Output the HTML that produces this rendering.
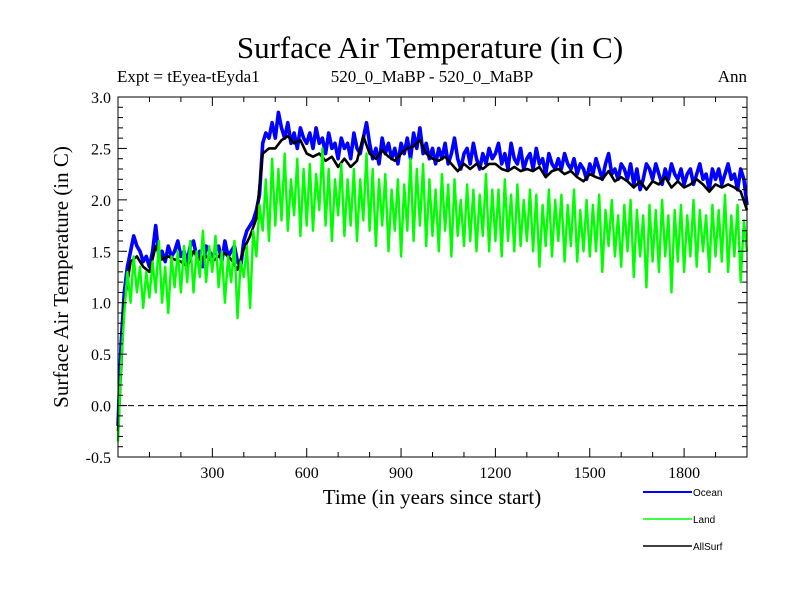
<!DOCTYPE html>
<html><head><meta charset="utf-8"><style>
html,body{margin:0;padding:0;background:#fff;}
svg{display:block;font-family:"Liberation Serif",serif;}
</style></head><body>
<svg id="chart" width="800" height="600" xmlns="http://www.w3.org/2000/svg">
<text x="430" y="58" font-size="31" text-anchor="middle">Surface Air Temperature (in C)</text>
<text x="117" y="82" font-size="17">Expt = tEyea-tEyda1</text>
<text x="432" y="82" font-size="17" text-anchor="middle">520_0_MaBP - 520_0_MaBP</text>
<text x="747" y="82" font-size="17" text-anchor="end">Ann</text>
<text transform="translate(68,277) rotate(-90)" font-size="21" text-anchor="middle">Surface Air Temperature (in C)</text>
<text x="432" y="504" font-size="21" text-anchor="middle">Time (in years since start)</text>
<g id="plot"></g>
<g font-family="Liberation Sans, sans-serif" font-size="10">
<line x1="643" y1="492" x2="692" y2="492" stroke="#0000ff" stroke-width="2"/>
<text x="693" y="496">Ocean</text>
<line x1="643" y1="519" x2="692" y2="519" stroke="#00ff00" stroke-width="1.5"/>
<text x="693" y="523">Land</text>
<line x1="643" y1="546" x2="692" y2="546" stroke="#000" stroke-width="1.5"/>
<text x="693" y="550">AllSurf</text>
</g>
</svg>
<script>
const xTicks=[300,600,900,1200,1500,1800];
const yTicks=[-0.5,0.0,0.5,1.0,1.5,2.0,2.5,3.0];
const yTickLabels=["-0.5","0.0","0.5","1.0","1.5","2.0","2.5","3.0"];
const oceanStep=10;
const ocean=[-0.2,
0.6,1.1,1.35,1.5,1.65,1.55,1.5,1.4,1.45,1.35,
1.5,1.75,1.45,1.5,1.4,1.55,1.45,1.5,1.6,1.45,
1.5,1.4,1.55,1.6,1.45,1.5,1.35,1.55,1.5,1.45,
1.5,1.55,1.4,1.6,1.45,1.5,1.55,1.4,1.35,1.6,
1.7,1.75,1.8,1.9,2.05,2.55,2.65,2.6,2.75,2.6,
2.85,2.7,2.6,2.75,2.55,2.65,2.5,2.7,2.6,2.55,
2.65,2.5,2.7,2.55,2.6,2.45,2.65,2.5,2.55,2.4,
2.6,2.5,2.55,2.4,2.65,2.5,2.45,2.6,2.75,2.55,
2.4,2.5,2.35,2.6,2.45,2.55,2.4,2.5,2.35,2.55,
2.45,2.6,2.4,2.65,2.5,2.7,2.45,2.55,2.4,2.5,
2.35,2.5,2.4,2.55,2.35,2.45,2.6,2.4,2.3,2.45,
2.5,2.35,2.55,2.4,2.3,2.45,2.35,2.5,2.4,2.45,
2.55,2.35,2.45,2.3,2.55,2.4,2.35,2.5,2.3,2.4,
2.45,2.3,2.5,2.35,2.4,2.25,2.45,2.35,2.3,2.4,
2.3,2.45,2.35,2.3,2.4,2.25,2.35,2.3,2.2,2.35,
2.25,2.4,2.3,2.2,2.35,2.45,2.25,2.3,2.2,2.35,
2.3,2.2,2.35,2.15,2.3,2.1,2.2,2.35,2.3,2.2,
2.35,2.25,2.15,2.3,2.2,2.35,2.25,2.2,2.3,2.15,
2.25,2.3,2.15,2.25,2.35,2.2,2.25,2.1,2.3,2.2,
2.3,2.15,2.25,2.35,2.2,2.25,2.1,2.3,2.2,1.95];
const allSurfStep=20;
const allSurf=[-0.25,
1.0,1.4,1.45,1.35,1.3,
1.55,1.42,1.45,1.42,1.4,
1.35,1.5,1.42,1.45,1.4,
1.45,1.48,1.42,1.32,1.52,
1.65,1.82,2.45,2.5,2.5,
2.58,2.62,2.55,2.58,2.45,
2.42,2.45,2.38,2.42,2.32,
2.4,2.32,2.38,2.62,2.45,
2.4,2.48,2.42,2.38,2.45,
2.5,2.52,2.58,2.45,2.4,
2.38,2.42,2.35,2.28,2.35,
2.3,2.35,2.3,2.35,2.35,
2.3,2.28,2.32,2.28,2.3,
2.28,2.32,2.22,2.28,2.3,
2.25,2.28,2.22,2.18,2.25,
2.22,2.2,2.28,2.18,2.22,
2.18,2.12,2.18,2.1,2.18,
2.15,2.22,2.12,2.18,2.12,
2.15,2.2,2.15,2.08,2.15,
2.12,2.15,2.12,2.08,1.9];
const landStep=10;
const land=[-0.35,
0.4,0.9,1.3,1.0,1.45,1.1,1.35,0.95,1.3,1.05,
1.4,1.1,1.6,1.0,1.35,0.9,1.45,1.15,1.5,1.1,
1.55,1.2,1.6,1.1,1.5,1.25,1.7,1.2,1.55,1.3,
1.65,1.15,1.5,1.0,1.45,1.2,1.6,0.85,1.4,1.25,
1.55,0.95,1.7,1.45,1.95,1.7,2.2,1.6,2.4,1.75,
2.3,1.8,2.45,1.7,2.2,1.85,2.4,1.65,2.3,1.75,
2.35,1.7,2.25,1.9,2.5,1.75,2.3,1.6,2.2,1.85,
2.35,1.65,2.2,1.75,2.3,1.6,2.2,1.8,2.45,1.7,
2.3,1.55,2.2,1.75,2.25,1.5,2.1,1.7,2.2,1.45,
2.15,1.7,2.4,1.6,2.3,1.75,2.35,1.55,2.2,1.65,
2.1,1.5,2.25,1.7,2.15,1.45,2.2,1.65,2.0,1.55,
2.15,1.6,2.1,1.5,2.05,1.65,2.25,1.5,2.1,1.6,
2.1,1.45,2.2,1.6,2.05,1.5,2.15,1.55,2.0,1.6,
2.1,1.5,2.05,1.35,1.95,1.55,2.1,1.45,2.0,1.6,
2.05,1.4,1.95,1.55,2.1,1.4,1.9,1.5,2.0,1.45,
1.95,1.5,2.05,1.3,1.9,1.55,2.0,1.45,1.85,1.35,
1.95,1.5,2.0,1.25,1.9,1.45,1.85,1.15,1.95,1.4,
1.9,1.3,2.0,1.45,1.85,1.1,1.9,1.4,1.95,1.3,
1.85,1.45,2.0,1.35,1.9,1.5,1.85,1.3,1.95,1.45,
1.9,1.4,2.05,1.3,1.85,1.45,1.95,1.2,1.8,1.5];

const X0=118,X1=747,Y0=457,Y1=97;
const xMin=0,xMax=2000,yMin=-0.5,yMax=3.0;
function xs(v){return X0+(v-xMin)/(xMax-xMin)*(X1-X0);}
function ys(v){return Y0-(v-yMin)/(yMax-yMin)*(Y0-Y1);}
const NS="http://www.w3.org/2000/svg";
const plot=document.getElementById('plot');
function mk(tag,attrs,parent){const e=document.createElementNS(NS,tag);for(const k in attrs)e.setAttribute(k,attrs[k]);(parent||plot).appendChild(e);return e;}

const zl=mk('line',{x1:X0,x2:X1,y1:ys(0),y2:ys(0),stroke:'#000','stroke-width':1,'stroke-dasharray':'6,4'});



function series(vals,step,color,w,name){
  let d='';
  vals.forEach((v,i)=>{d+=(i?'L':'M')+xs(i*step).toFixed(1)+','+ys(v).toFixed(1);});
  const p=mk('path',{d:d,fill:'none',stroke:color,'stroke-width':w,'stroke-linejoin':'round'});
  
  
}
series(ocean,oceanStep,'#0000ff',3.6,'ocean-series');
series(allSurf,allSurfStep,'#000000',2.6,'allsurf-series');
series(land,landStep,'#00ff00',2.4,'land-series');

const frame=mk('rect',{x:X0,y:Y1,width:X1-X0,height:Y0-Y1,fill:'none',stroke:'#000','stroke-width':1});



for(let v=100;v<2000;v+=100){
  const major=v%300===0, L=major?9:5;
  mk('line',{x1:xs(v),x2:xs(v),y1:Y0,y2:Y0-L,stroke:'#000'});
  mk('line',{x1:xs(v),x2:xs(v),y1:Y1,y2:Y1+L,stroke:'#000'});
}
for(let k=-4;k<30;k++){
  const v=k/10, major=(k%5===0), L=major?9:5;
  mk('line',{x1:X0,x2:X0+L,y1:ys(v),y2:ys(v),stroke:'#000'});
  mk('line',{x1:X1,x2:X1-L,y1:ys(v),y2:ys(v),stroke:'#000'});
}
xTicks.forEach(v=>{
  const t=mk('text',{x:xs(v),y:478,'font-size':16,'text-anchor':'middle'});
  t.textContent=String(v);
  
  
});
yTicks.forEach((v,i)=>{
  const t=mk('text',{x:111,y:ys(v)+6,'font-size':16,'text-anchor':'end'});
  t.textContent=yTickLabels[i];
  
  
});
</script>
</body></html>
